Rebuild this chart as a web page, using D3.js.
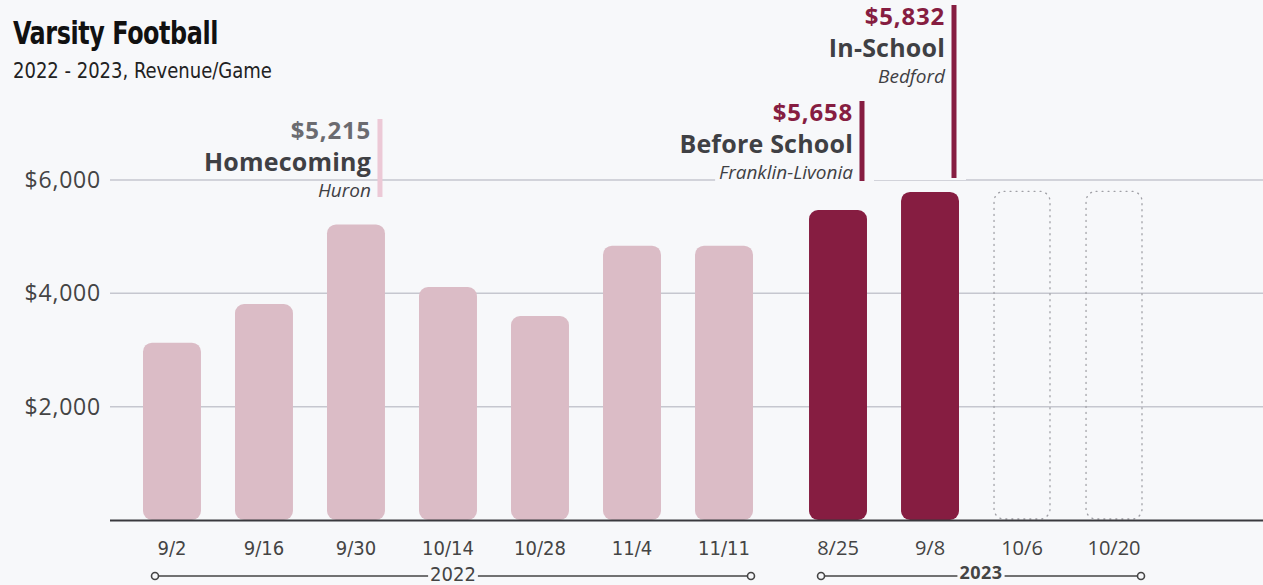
<!DOCTYPE html>
<html lang="en">
<meta charset="utf-8">
<head>
    <script src='https://d3js.org/d3.v7.min.js'></script>
    <style>
        body { margin: 0; background: #f7f8fa; }
        svg { display: block; }
    </style>
</head>
<body>
<script>

// data
const dates = ["9/2", "9/16", "9/30", "10/14", "10/28", "11/4", "11/11", "8/25", "9/8", "10/6", "10/20"]
const years = ["2022", "2022", "2022", "2022", "2022", "2022", "2022", "2023", "2023", "2023", "2023"]
const revenue = [3130, 3810, 5215, 4110, 3600, 4840, 4840, 5470, 5790, null, null]
const placeholder = [null, null, null, null, null, null, null, null, null, 5800, 5800]
const yTicks = [2000, 4000, 6000]

const notes = [
    {date: "9/30", amount: "$5,215", title: "Homecoming", sub: "Huron", top: 119, bottom: 197, hot: false},
    {date: "8/25", amount: "$5,658", title: "Before School", sub: "Franklin-Livonia", top: 101, bottom: 181, hot: true},
    {date: "9/8", amount: "$5,832", title: "In-School", sub: "Bedford", top: 5, bottom: 178, hot: true}
]

const width = 1263, height = 585
const narrow = "'DejaVu Sans Condensed', 'Liberation Sans Narrow', sans-serif"
const geo = "'Open Sans', Lato, sans-serif"
const maroon = "#861d41", pink = "#dbbcc6", ink = "#444", bg = "#f7f8fa"

const svg = d3.select("body").append("svg")
    .attr("width", width)
    .attr("height", height)

// title
svg.append("text").attr("transform", "translate(13,44) scale(0.83,1)")
    .style("font-family", narrow).style("font-weight", "bold").style("font-size", "32px")
    .style("fill", "#111").style("letter-spacing", "-0.5px")
    .text("Varsity Football")
svg.append("text").attr("transform", "translate(13,78) scale(0.91,1)")
    .style("font-family", narrow).style("font-size", "22px").style("fill", "#222")
    .text("2022 - 2023, Revenue/Game")

const y = d3.scaleLinear().domain([0, 6000]).range([520, 180])

const x = d3.scaleBand()
    .domain(dates)
    .range([143, 1121])
    .paddingInner(0.37)
    .paddingOuter(0)
const gap = 22
const bx = (d, i) => x(d) + (years[i] === "2023" ? gap : 0)

// grid
svg.append("g").selectAll("line").data(yTicks).join("line")
    .attr("x1", 110).attr("x2", width)
    .attr("y1", d => y(d)).attr("y2", d => y(d))
    .attr("stroke", "#c6c7cf").attr("stroke-width", 1.5)

svg.append("g").selectAll("text").data(yTicks).join("text")
    .attr("x", 101).attr("y", d => y(d) + 8)
    .attr("text-anchor", "end")
    .style("font-family", geo).style("font-size", "23px").style("letter-spacing", "0.8px")
    .style("fill", ink)
    .text(d => "$" + d3.format(",")(d))

// bars
svg.append("g").selectAll("rect").data(dates).join("rect")
    .filter((d, i) => revenue[i] != null)
    .attr("x", (d) => bx(d, dates.indexOf(d)))
    .attr("width", x.bandwidth())
    .attr("y", d => y(revenue[dates.indexOf(d)]))
    .attr("height", d => y(0) - y(revenue[dates.indexOf(d)]))
    .attr("rx", 9)
    .attr("fill", d => years[dates.indexOf(d)] === "2023" ? maroon : pink)

svg.append("g").selectAll("rect").data(dates).join("rect")
    .filter((d, i) => placeholder[i] != null)
    .attr("x", d => bx(d, dates.indexOf(d)) + 1)
    .attr("width", x.bandwidth() - 2)
    .attr("y", d => y(placeholder[dates.indexOf(d)]))
    .attr("height", d => y(0) - y(placeholder[dates.indexOf(d)]) - 1)
    .attr("rx", 10)
    .attr("fill", "none")
    .attr("stroke", "#a0a0a6").attr("stroke-width", 1.3)
    .attr("stroke-dasharray", "1 5").attr("stroke-linecap", "round")

// baseline
svg.append("line").attr("x1", 110).attr("x2", width)
    .attr("y1", y(0) + 0.5).attr("y2", y(0) + 0.5)
    .attr("stroke", "#3a3a3e").attr("stroke-width", 2)

// x labels
svg.append("g").selectAll("text").data(dates).join("text")
    .attr("x", (d, i) => bx(d, i) + x.bandwidth() / 2)
    .attr("y", 555)
    .attr("text-anchor", "middle")
    .style("font-family", (d, i) => years[i] === "2023" ? geo : narrow)
    .style("font-size", "20px")
    .style("fill", ink)
    .text(d => d)

// year ranges
const groups = d3.groups(dates.map((d, i) => ({d, i, yr: years[i]})), g => g.yr)
groups.forEach(([yr, items]) => {
    const first = items[0], last = items[items.length - 1]
    const x1 = bx(first.d, first.i) + 12
    const x2 = bx(last.d, last.i) + x.bandwidth() - 2
    const g = svg.append("g")
    g.append("line").attr("x1", x1).attr("x2", x2).attr("y1", 576).attr("y2", 576)
        .attr("stroke", ink).attr("stroke-width", 1.6)
    const t = g.append("text").attr("x", (x1 + x2) / 2).attr("y", yr === "2023" ? 579 : 581)
        .attr("text-anchor", "middle")
        .style("font-family", yr === "2023" ? geo : narrow)
        .style("font-weight", yr === "2023" ? "bold" : "normal")
        .style("font-size", yr === "2023" ? "18px" : "20px")
        .style("letter-spacing", yr === "2023" ? "0.5px" : "0px")
        .style("fill", ink)
        .text(yr)
    const bb = t.node().getBBox()
    g.insert("rect", "text").attr("x", bb.x - 2).attr("y", 566).attr("width", bb.width + 4).attr("height", 19)
        .attr("fill", bg)
    ;[x1, x2].forEach(cx => g.append("circle").attr("cx", cx).attr("cy", 576).attr("r", 3.5)
        .attr("fill", bg).attr("stroke", ink).attr("stroke-width", 1.6))
})

// annotations: backgrounds first, then lines and text
const noteBg = svg.append("g")
notes.forEach(n => {
    const i = dates.indexOf(n.date)
    const lx = bx(n.date, i) + x.bandwidth() - 5
    const tx = lx - 9
    const g = svg.append("g")
    g.append("line").attr("x1", lx).attr("x2", lx).attr("y1", n.top).attr("y2", n.bottom)
        .attr("stroke", n.hot ? maroon : "#ecc9d6").attr("stroke-width", 5)
    g.append("text").attr("x", tx).attr("y", n.top + 20)
        .attr("text-anchor", "end")
        .style("font-family", geo).style("font-weight", "bold").style("font-size", "24px")
        .style("letter-spacing", "0.8px")
        .style("fill", n.hot ? maroon : "#6b6b70")
        .text(n.amount)
    g.append("text").attr("x", tx).attr("y", n.top + 52)
        .attr("text-anchor", "end")
        .style("font-family", geo).style("font-weight", "bold").style("font-size", "25px")
        .style("letter-spacing", "0.2px")
        .style("fill", "#3f4044")
        .text(n.title)
    const s = g.append("text").attr("x", tx).attr("y", n.top + 78)
        .attr("text-anchor", "end")
        .style("font-family", geo).style("font-style", "italic").style("font-size", "19px")
        .style("fill", "#3f4044")
        .text(n.sub)
    if (n.hot) {
        const bb = s.node().getBBox()
        noteBg.append("rect").attr("x", bb.x - 4).attr("y", n.bottom - 20)
            .attr("width", lx - bb.x + 16).attr("height", 22).attr("fill", bg)
    }
})
</script>
</body>
</html>
